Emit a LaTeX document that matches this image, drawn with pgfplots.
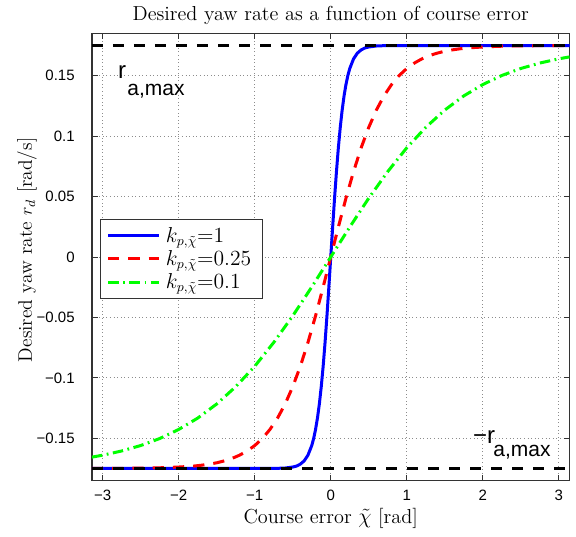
\documentclass[border=0pt]{standalone}
\usepackage{pgfplots}
\pgfplotsset{compat=1.18}
\usepackage{fontspec}
\newfontfamily\helv{Liberation Sans}
\begin{document}
\begin{tikzpicture}
\begin{axis}[
  scale only axis, width=318.3pt, height=298pt,
  xmin=-3.14159, xmax=3.14159, ymin=-0.185, ymax=0.185,
  xtick={-3,-2,-1,0,1,2,3}, xticklabels={−3,−2,−1,0,1,2,3},
  ytick={-0.15,-0.1,-0.05,0,0.05,0.1,0.15},
  yticklabels={−0.15,−0.1,−0.05,0,0.05,0.1,0.15},
  ticklabel style={font=\helv\fontsize{10}{12}\selectfont},
  xticklabel style={yshift=-3pt},
  yticklabel style={xshift=-8pt},
  grid=major, major grid style={dotted, black!45, line width=0.5pt},
  tick align=inside, major tick length=4pt,
  tick style={black!80, line width=0.6pt},
  axis line style={black!80, line width=0.8pt},
  every axis title shift=0pt,
  title={Desired yaw rate as a function of course error},
  title style={font=\fontsize{13.5}{15}\selectfont, at={(0.5,1.028)}, anchor=base},
  xlabel={Course error $\tilde{\chi}$ [rad]},
  xlabel style={font=\fontsize{13.5}{15}\selectfont, at={(0.5,-0.095)}, anchor=base},
  ylabel={Desired yaw rate $r_d$ [rad/s]},
  ylabel style={font=\fontsize{13}{15}\selectfont, at={(-0.1257,0.516)}, anchor=base},
  legend cell align=left,
  legend style={at={(0.017,0.585)}, anchor=north west, draw=black!80, line width=0.8pt,
    font=\fontsize{13.3}{15}\selectfont, row sep=0pt, inner xsep=4pt, inner ysep=3pt,
    nodes={inner xsep=3.5pt}},
  legend image code/.code={\draw[#1] (0pt,0pt) -- (34pt,0pt);},
]
\addplot[blue, line width=2pt, line join=round] coordinates {
(-3.1416,-0.1750) (-1.0,-0.1750) (-0.8,-0.17496) (-0.7,-0.17488) (-0.6,-0.17463)
(-0.5,-0.1738) (-0.45,-0.1730) (-0.4,-0.1714) (-0.35,-0.1687) (-0.3,-0.1640)
(-0.25,-0.1560) (-0.225,-0.1502) (-0.2,-0.1427) (-0.175,-0.1333) (-0.15,-0.1216)
(-0.125,-0.1073) (-0.1,-0.0904) (-0.075,-0.0707) (-0.05,-0.0487) (-0.025,-0.0248)
(0,0)
(0.025,0.0248) (0.05,0.0487) (0.075,0.0707) (0.1,0.0904) (0.125,0.1073)
(0.15,0.1216) (0.175,0.1333) (0.2,0.1427) (0.225,0.1502) (0.25,0.1560)
(0.3,0.1640) (0.35,0.1687) (0.4,0.1714) (0.45,0.1730) (0.5,0.1738)
(0.6,0.17463) (0.7,0.17488) (0.8,0.17496) (1.0,0.1750) (3.1416,0.1750)
};
\addlegendentry{$k_{p,\tilde{\chi}}{=}1$}
\addplot[red, line width=2pt, dash pattern=on 7.5pt off 6pt] coordinates {
(-3.1416,-0.17496) (-3.0,-0.17493) (-2.8,-0.17488) (-2.6,-0.17479) (-2.4,-0.17463)
(-2.2,-0.17435) (-2.0,-0.1738) (-1.8,-0.1730) (-1.7,-0.1723) (-1.6,-0.1714)
(-1.5,-0.1703) (-1.4,-0.1687) (-1.3,-0.1667) (-1.2,-0.1640) (-1.1,-0.1605)
(-1.0,-0.1560) (-0.9,-0.1502) (-0.8,-0.1427) (-0.7,-0.1333) (-0.6,-0.1216)
(-0.5,-0.1073) (-0.4,-0.0904) (-0.3,-0.0707) (-0.2,-0.0487) (-0.1,-0.0248)
(0,0)
(0.1,0.0248) (0.2,0.0487) (0.3,0.0707) (0.4,0.0904) (0.5,0.1073)
(0.6,0.1216) (0.7,0.1333) (0.8,0.1427) (0.9,0.1502) (1.0,0.1560)
(1.1,0.1605) (1.2,0.1640) (1.3,0.1667) (1.4,0.1687) (1.5,0.1703)
(1.6,0.1714) (1.7,0.1723) (1.8,0.1730) (2.0,0.1738) (2.2,0.17435)
(2.4,0.17463) (2.6,0.17479) (2.8,0.17488) (3.0,0.17493) (3.1416,0.17496)
};
\addlegendentry{$k_{p,\tilde{\chi}}{=}0.25$}
\addplot[green, line width=2pt, dash pattern=on 7pt off 3pt on 1.2pt off 3pt] coordinates {
(-3.1416,-0.1656) (-3.0,-0.1640) (-2.75,-0.1605) (-2.5,-0.1560) (-2.25,-0.1502)
(-2.0,-0.1427) (-1.75,-0.1333) (-1.5,-0.1216) (-1.25,-0.1073) (-1.0,-0.0904)
(-0.75,-0.0707) (-0.5,-0.0487) (-0.25,-0.0248) (0,0)
(0.25,0.0248) (0.5,0.0487) (0.75,0.0707) (1.0,0.0904) (1.25,0.1073)
(1.5,0.1216) (1.75,0.1333) (2.0,0.1427) (2.25,0.1502) (2.5,0.1560)
(2.75,0.1605) (3.0,0.1640) (3.1416,0.1656)
};
\addlegendentry{$k_{p,\tilde{\chi}}{=}0.1$}
\addplot[black, line width=2pt, dash pattern=on 7.5pt off 6.5pt, forget plot] coordinates {(-3.1416,0.175) (3.1416,0.175)};
\addplot[black, line width=2pt, dash pattern=on 7.5pt off 6.5pt, forget plot] coordinates {(-3.1416,-0.175) (3.1416,-0.175)};
\node[anchor=base west, inner sep=0pt, font=\helv\fontsize{16}{18}\selectfont] at (axis cs:-2.80,0.148) {r};
\node[anchor=base west, inner sep=0pt, font=\helv\fontsize{14}{16}\selectfont] at (axis cs:-2.68,0.134) {a,max};
\node[anchor=base west, inner sep=0pt, font=\helv\fontsize{16}{18}\selectfont] at (axis cs:1.87,-0.154) {−r};
\node[anchor=base west, inner sep=0pt, font=\helv\fontsize{14}{16}\selectfont] at (axis cs:2.135,-0.1647) {a,max};
\coordinate (ll) at (rel axis cs:0,0);
\coordinate (ur) at (rel axis cs:1,1);
\end{axis}
\pgfresetboundingbox
\path ([xshift=-61.3pt,yshift=-37pt]ll) rectangle ([xshift=4.3pt,yshift=22.3pt]ur);
\end{tikzpicture}
\end{document}
